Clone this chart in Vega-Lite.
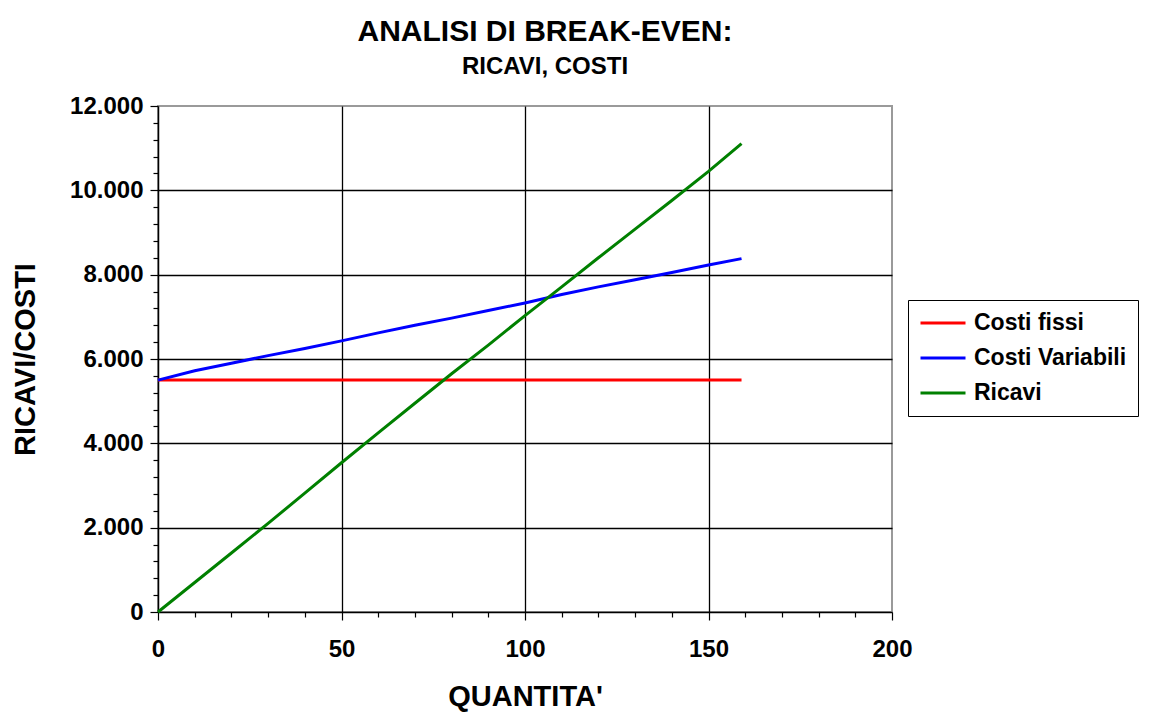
{
  "$schema": "https://vega.github.io/schema/vega-lite/v6.json",
  "width": 734,
  "height": 506,
  "autosize": "none",
  "padding": {"left": 158, "top": 106, "right": 257, "bottom": 101},
  "background": "white",
  "config": {
    "font": "Liberation Sans",
    "view": {"stroke": "#9a9a9a", "strokeWidth": 2},
    "axis": {"labelFont": "Liberation Sans", "titleFont": "Liberation Sans"}
  },
  "title": {
    "text": "ANALISI DI BREAK-EVEN:",
    "subtitle": "RICAVI, COSTI",
    "anchor": "middle",
    "frame": "group",
    "dx": 20,
    "offset": 15,
    "font": "Liberation Sans",
    "fontSize": 30,
    "fontWeight": "bold",
    "color": "black",
    "subtitleFont": "Liberation Sans",
    "subtitleFontSize": 24,
    "subtitleFontWeight": "bold",
    "subtitleColor": "black",
    "subtitlePadding": 8
  },
  "data": {
    "values": [
      {"q": 0, "serie": "Costi fissi", "v": 5500},
      {"q": 10, "serie": "Costi fissi", "v": 5500},
      {"q": 20, "serie": "Costi fissi", "v": 5500},
      {"q": 30, "serie": "Costi fissi", "v": 5500},
      {"q": 40, "serie": "Costi fissi", "v": 5500},
      {"q": 50, "serie": "Costi fissi", "v": 5500},
      {"q": 60, "serie": "Costi fissi", "v": 5500},
      {"q": 70, "serie": "Costi fissi", "v": 5500},
      {"q": 80, "serie": "Costi fissi", "v": 5500},
      {"q": 90, "serie": "Costi fissi", "v": 5500},
      {"q": 100, "serie": "Costi fissi", "v": 5500},
      {"q": 110, "serie": "Costi fissi", "v": 5500},
      {"q": 120, "serie": "Costi fissi", "v": 5500},
      {"q": 130, "serie": "Costi fissi", "v": 5500},
      {"q": 140, "serie": "Costi fissi", "v": 5500},
      {"q": 150, "serie": "Costi fissi", "v": 5500},
      {"q": 159, "serie": "Costi fissi", "v": 5500},
      {"q": 0, "serie": "Costi Variabili", "v": 5500},
      {"q": 10, "serie": "Costi Variabili", "v": 5720},
      {"q": 20, "serie": "Costi Variabili", "v": 5900},
      {"q": 30, "serie": "Costi Variabili", "v": 6080},
      {"q": 40, "serie": "Costi Variabili", "v": 6250},
      {"q": 50, "serie": "Costi Variabili", "v": 6430},
      {"q": 60, "serie": "Costi Variabili", "v": 6620},
      {"q": 70, "serie": "Costi Variabili", "v": 6800},
      {"q": 80, "serie": "Costi Variabili", "v": 6970},
      {"q": 90, "serie": "Costi Variabili", "v": 7150},
      {"q": 100, "serie": "Costi Variabili", "v": 7330},
      {"q": 110, "serie": "Costi Variabili", "v": 7530},
      {"q": 120, "serie": "Costi Variabili", "v": 7710},
      {"q": 130, "serie": "Costi Variabili", "v": 7880},
      {"q": 140, "serie": "Costi Variabili", "v": 8050},
      {"q": 150, "serie": "Costi Variabili", "v": 8230},
      {"q": 159, "serie": "Costi Variabili", "v": 8380},
      {"q": 0, "serie": "Ricavi", "v": 0},
      {"q": 10, "serie": "Ricavi", "v": 700},
      {"q": 20, "serie": "Ricavi", "v": 1400},
      {"q": 30, "serie": "Ricavi", "v": 2100},
      {"q": 40, "serie": "Ricavi", "v": 2820},
      {"q": 50, "serie": "Ricavi", "v": 3540},
      {"q": 60, "serie": "Ricavi", "v": 4250},
      {"q": 70, "serie": "Ricavi", "v": 4950},
      {"q": 80, "serie": "Ricavi", "v": 5650},
      {"q": 90, "serie": "Ricavi", "v": 6330},
      {"q": 100, "serie": "Ricavi", "v": 7030},
      {"q": 110, "serie": "Ricavi", "v": 7710},
      {"q": 120, "serie": "Ricavi", "v": 8400},
      {"q": 130, "serie": "Ricavi", "v": 9080},
      {"q": 140, "serie": "Ricavi", "v": 9760},
      {"q": 150, "serie": "Ricavi", "v": 10450},
      {"q": 159, "serie": "Ricavi", "v": 11110}
    ]
  },
  "mark": {"type": "line", "strokeWidth": 3, "clip": false},
  "encoding": {
    "x": {
      "field": "q",
      "type": "quantitative",
      "scale": {"domain": [0, 200], "nice": false},
      "axis": {
        "title": "QUANTITA'",
        "values": [0,10,20,30,40,50,60,70,80,90,100,110,120,130,140,150,160,170,180,190,200],
        "labelExpr": "datum.value % 50 === 0 ? datum.label : ''",
        "labelOverlap": false,
        "labelFontSize": 24,
        "labelFontWeight": "bold",
        "labelColor": "black",
        "labelPadding": 17,
        "labelFlush": false,
        "titleFontSize": 29,
        "titleFontWeight": "bold",
        "titleColor": "black",
        "titlePadding": 21,
        "domainColor": "black",
        "domainWidth": 1.5,
        "tickColor": "black",
        "tickWidth": 1.2,
        "tickSize": {"condition": {"test": "datum.value % 50 === 0", "value": 8}, "value": 5},
        "grid": true,
        "gridColor": "black",
        "gridWidth": 1.3,
        "gridOpacity": {"condition": {"test": "datum.value % 50 === 0 && datum.value > 0 && datum.value < 200", "value": 1}, "value": 0}
      }
    },
    "y": {
      "field": "v",
      "type": "quantitative",
      "scale": {"domain": [0, 12000], "nice": false},
      "axis": {
        "title": "RICAVI/COSTI",
        "values": [0,400,800,1200,1600,2000,2400,2800,3200,3600,4000,4400,4800,5200,5600,6000,6400,6800,7200,7600,8000,8400,8800,9200,9600,10000,10400,10800,11200,11600,12000],
        "labelExpr": "datum.value % 2000 === 0 ? replace(format(datum.value, ','), ',', '.') : ''",
        "labelOverlap": false,
        "labelFontSize": 24,
        "labelFontWeight": "bold",
        "labelColor": "black",
        "labelPadding": 7,
        "labelFlush": false,
        "titleFontSize": 29,
        "titleFontWeight": "bold",
        "titleColor": "black",
        "titlePadding": 29,
        "domainColor": "black",
        "domainWidth": 1.5,
        "tickColor": "black",
        "tickWidth": 1.2,
        "tickSize": {"condition": {"test": "datum.value % 2000 === 0", "value": 8}, "value": 5},
        "grid": true,
        "gridColor": "black",
        "gridWidth": 1.3,
        "gridOpacity": {"condition": {"test": "datum.value % 2000 === 0 && datum.value > 0 && datum.value < 12000", "value": 1}, "value": 0}
      }
    },
    "color": {
      "field": "serie",
      "type": "nominal",
      "scale": {"domain": ["Costi fissi", "Costi Variabili", "Ricavi"], "range": ["#ff0000", "#0000ff", "#008000"]},
      "legend": {
        "title": null,
        "orient": "none",
        "legendX": 750,
        "legendY": 194,
        "symbolType": "stroke",
        "symbolSize": 2025,
        "symbolStrokeWidth": 3,
        "clipHeight": 24,
        "labelFontSize": 23,
        "labelFontWeight": "bold",
        "labelColor": "black",
        "labelFont": "Liberation Sans",
        "labelOffset": 7,
        "labelLimit": 300,
        "rowPadding": 11,
        "padding": 11,
        "strokeColor": "black",
        "fillColor": "white"
      }
    }
  }
}
